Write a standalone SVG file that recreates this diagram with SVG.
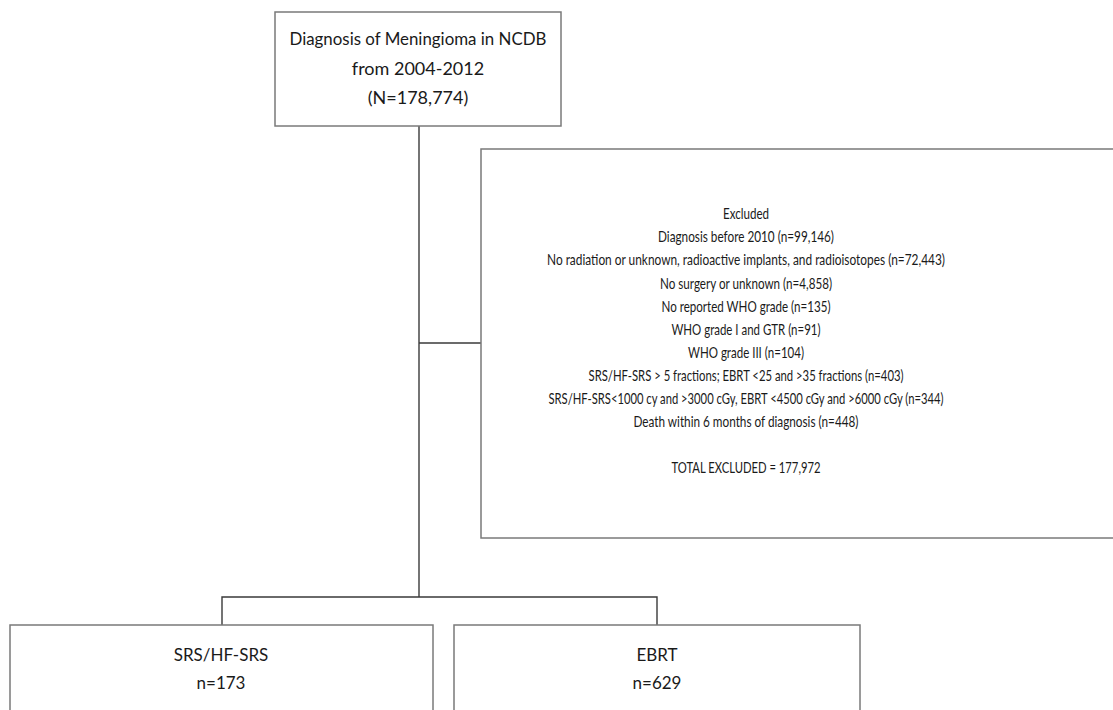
<svg xmlns="http://www.w3.org/2000/svg" width="1113" height="710" viewBox="0 0 1113 710">
<style>
.box{fill:#fff;stroke:#7a7a7a;stroke-width:1.5}
.ln{fill:none;stroke:#3a3a3a;stroke-width:1.4}
text{font-family:Lato,"Open Sans","Liberation Sans",sans-serif;fill:#1a1a1a;text-anchor:middle}
.t1{font-size:18px}
.t2{font-size:16px}
.t3{font-size:17px}
</style>
<rect width="1113" height="710" fill="#fff"/>
<g id="connectors">
<path class="ln" d="M419,126 V597"/>
<path class="ln" d="M419,343 H481"/>
<path class="ln" d="M222,625 V597 H657 V625"/>
</g>
<g id="top">
<rect class="box" x="275" y="12" width="286" height="114"/>
<text class="t1" x="418" y="45" textLength="257" lengthAdjust="spacingAndGlyphs">Diagnosis of Meningioma in NCDB</text>
<text class="t1" x="418" y="75">from 2004-2012</text>
<text class="t1" x="418" y="104">(N=178,774)</text>
</g>
<g id="excluded">
<rect class="box" x="481" y="149" width="640" height="389"/>
<text class="t2" x="746" y="219" textLength="46" lengthAdjust="spacingAndGlyphs">Excluded</text>
<text class="t2" x="746" y="242" textLength="176" lengthAdjust="spacingAndGlyphs">Diagnosis before 2010  (n=99,146)</text>
<text class="t2" x="746" y="265" textLength="398" lengthAdjust="spacingAndGlyphs">No radiation or unknown, radioactive implants, and radioisotopes  (n=72,443)</text>
<text class="t2" x="746" y="289" textLength="172" lengthAdjust="spacingAndGlyphs">No surgery or unknown (n=4,858)</text>
<text class="t2" x="746" y="312" textLength="169" lengthAdjust="spacingAndGlyphs">No reported WHO grade (n=135)</text>
<text class="t2" x="746" y="335" textLength="149" lengthAdjust="spacingAndGlyphs">WHO grade I and GTR (n=91)</text>
<text class="t2" x="746" y="358" textLength="116" lengthAdjust="spacingAndGlyphs">WHO grade III (n=104)</text>
<text class="t2" x="746" y="381" textLength="315" lengthAdjust="spacingAndGlyphs">SRS/HF-SRS &gt; 5 fractions; EBRT &lt;25 and &gt;35 fractions (n=403)</text>
<text class="t2" x="746" y="404" textLength="395" lengthAdjust="spacingAndGlyphs">SRS/HF-SRS&lt;1000 cy and &gt;3000 cGy, EBRT &lt;4500 cGy and &gt;6000 cGy (n=344)</text>
<text class="t2" x="746" y="427" textLength="225" lengthAdjust="spacingAndGlyphs">Death within 6 months of diagnosis (n=448)</text>
<text class="t2" x="746" y="473" textLength="149" lengthAdjust="spacingAndGlyphs">TOTAL EXCLUDED =  177,972</text>
</g>
<g id="srs">
<rect class="box" x="10" y="625" width="423" height="100"/>
<text class="t3" x="221" y="661">SRS/HF-SRS</text>
<text class="t3" x="221" y="689">n=173</text>
</g>
<g id="ebrt">
<rect class="box" x="454" y="625" width="406" height="100"/>
<text class="t3" x="657" y="661">EBRT</text>
<text class="t3" x="657" y="689">n=629</text>
</g>
</svg>
